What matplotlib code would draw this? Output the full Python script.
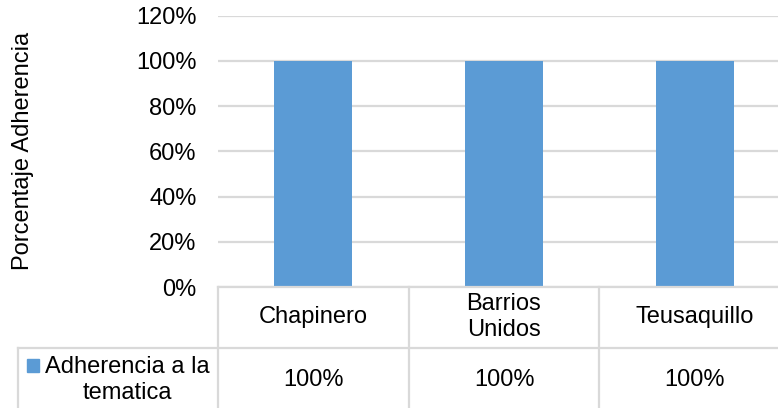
import matplotlib
matplotlib.use("Agg")
import matplotlib.pyplot as plt
from matplotlib.patches import Rectangle
from matplotlib.lines import Line2D
from matplotlib.transforms import blended_transform_factory

plt.rcParams['font.family'] = ['Liberation Sans', 'DejaVu Sans']

categories = ["Chapinero", "Barrios\nUnidos", "Teusaquillo"]
series_name = "Adherencia a la\ntematica"
values = [1.0, 1.0, 1.0]
y_ticks = [0.0, 0.2, 0.4, 0.6, 0.8, 1.0, 1.2]

bar_color = "#5B9BD5"
line_color = "#D9D9D9"
fs = 17

W, H = 778, 408
fig = plt.figure(figsize=(W / 100, H / 100), dpi=100)


def fx(px):
    return px / W


def fy(py):
    return 1 - py / H


# plot area runs a bit past the right edge, like the spreadsheet export
ax = fig.add_axes([fx(218), fy(287), fx(790 - 218), (287 - 15.7) / H])

xs = range(len(categories))
ax.bar(xs, values, width=0.41, color=bar_color, zorder=2)
ax.set_xlim(-0.5, len(categories) - 0.5)
ax.set_ylim(0, 1.2)
ax.set_yticks(y_ticks)
ax.set_yticklabels([f"{t:.0%}" for t in y_ticks])
ax.set_xticks([])
ax.yaxis.grid(True, color=line_color, linewidth=1.6)
ax.set_axisbelow(True)
for s in ax.spines.values():
    s.set_visible(False)
ax.tick_params(axis="y", length=0, pad=15.5, labelsize=fs, labelcolor="#000000")

fig.text(fx(23), fy(151), "Porcentaje Adherencia", rotation=90,
         ha="center", va="center", fontsize=fs)

# data table under the bars
tr = blended_transform_factory(ax.transData, fig.transFigure)
lw = 1.6
fig.add_artist(Line2D([fx(218), 1], [fy(287), fy(287)], color=line_color, lw=lw,
                      transform=fig.transFigure))
fig.add_artist(Line2D([fx(18), 1], [fy(348), fy(348)], color=line_color, lw=lw,
                      transform=fig.transFigure))
fig.add_artist(Line2D([fx(18), fx(18)], [fy(348), 0], color=line_color, lw=lw,
                      transform=fig.transFigure))
for i in range(len(categories) + 1):
    fig.add_artist(Line2D([i - 0.5, i - 0.5], [fy(287), 0], color=line_color, lw=lw,
                          transform=tr))

for i, (cat, v) in enumerate(zip(categories, values)):
    fig.text(i, fy(317), cat, ha="center", va="center", fontsize=fs,
             linespacing=1.2, transform=tr)
    fig.text(i, fy(380), f"{v:.0%}", ha="center", va="center", fontsize=fs,
             transform=tr)

fig.add_artist(Rectangle((fx(27), fy(372)), fx(12), 13 / H, color=bar_color,
                         transform=fig.transFigure))
fig.text(fx(127), fy(380), series_name, ha="center", va="center", fontsize=fs,
         linespacing=1.2)

fig.savefig("out.png", dpi=100)
